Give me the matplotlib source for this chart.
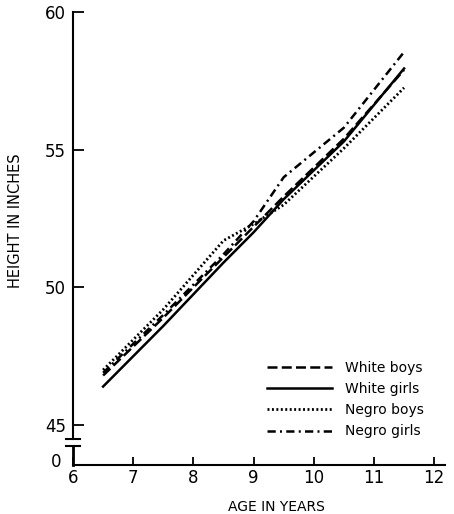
import matplotlib
matplotlib.use("Agg")
import matplotlib.pyplot as plt
import matplotlib.transforms as mtransforms

# mean height by age group
ages = [6.5, 7.5, 8.5, 9.0, 9.5, 10.5, 11.5]
white_boys = [46.8, 48.9, 51.1, 52.2, 53.3, 55.4, 57.9]
white_girls = [46.4, 48.6, 50.9, 52.0, 53.2, 55.3, 57.95]
negro_boys = [47.0, 49.2, 51.7, 52.3, 53.0, 55.05, 57.25]
negro_girls = [46.9, 49.0, 51.2, 52.4, 54.0, 55.8, 58.55]

x_ticks = [6, 7, 8, 9, 10, 11, 12]
y_ticks = [45, 50, 55, 60]

fig = plt.figure(figsize=(4.54, 5.14), dpi=100)
ax = fig.add_axes([0.1608, 0.0953, 0.8194, 0.8813])

lw = 1.8
ax.plot(ages, white_boys, color='black', lw=lw, linestyle=(0, (4, 1.7)), label='White boys')
ax.plot(ages, white_girls, color='black', lw=lw, linestyle='-', label='White girls')
ax.plot(ages, negro_boys, color='black', lw=2.0, linestyle=(0, (0.7, 0.9)), label='Negro boys')
ax.plot(ages, negro_girls, color='black', lw=lw, linestyle=(0, (3.3, 1.7, 0.8, 1.7)), label='Negro girls')

ax.set_xlim(6, 12.18)
ax.set_ylim(43.55, 60)
ax.set_xticks(x_ticks)
ax.set_yticks(y_ticks)

for s in ['top', 'right']:
    ax.spines[s].set_visible(False)
ax.spines['left'].set_linewidth(1.5)
ax.spines['bottom'].set_linewidth(1.5)

# broken y axis: upper spine down to the break, short piece to the origin
brk_hi, brk_lo = 44.49, 44.24
ax.spines['left'].set_bounds(brk_hi, 60)
trans = mtransforms.blended_transform_factory(ax.transAxes, ax.transData)
ax.plot([0, 0], [43.55, brk_lo], color='black', lw=2, transform=trans, clip_on=False)
for yb in (brk_hi, brk_lo):
    ax.plot([-0.02, 0.018], [yb, yb], color='black', lw=1.5, transform=trans, clip_on=False)
ax.text(-0.03, 43.65, '0', transform=trans, ha='right', va='center', fontsize=12)

ax.tick_params(axis='both', direction='in', width=1.3, labelsize=12)
ax.tick_params(axis='y', length=8, pad=5)
ax.tick_params(axis='x', length=6, pad=3)

ax.set_xlabel('AGE IN YEARS', fontsize=10)
ax.set_ylabel('HEIGHT IN INCHES', fontsize=10.5)
ax.xaxis.set_label_coords(0.546, -0.078)
ax.yaxis.set_label_coords(-0.135, 0.539)

ax.legend(loc='upper left', bbox_to_anchor=(0.588, 0.298), bbox_transform=fig.transFigure,
          frameon=False, fontsize=10, handlelength=4.7, handletextpad=0.9,
          labelspacing=0.52, borderpad=0, borderaxespad=0)

fig.savefig('out.png', dpi=100)
